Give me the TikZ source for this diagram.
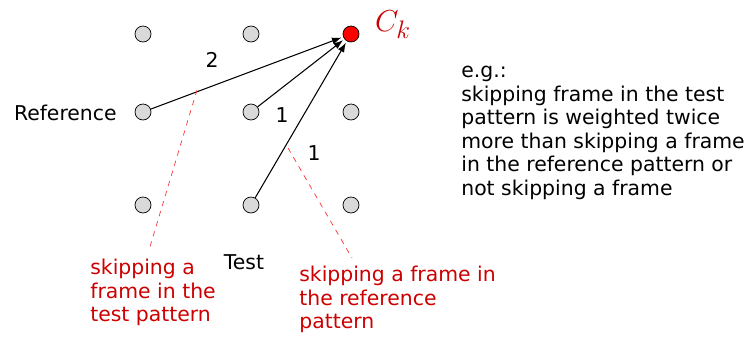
\documentclass[tikz,border=0pt]{standalone}
\usepackage{fontspec}
\setmainfont{DejaVu Sans}
\usetikzlibrary{arrows.meta, positioning}
\definecolor{dotgray}{HTML}{D9D9D9}
\definecolor{notered}{HTML}{CC0000}
\tikzset{
	gridnode/.style={
			circle,
			draw=black,
			fill=dotgray,
			minimum size=0.32cm,
			inner sep=0pt
		},
	activenode/.style={
			gridnode,
			fill=red
		},
	plaintext/.style={
			font=\fontsize{11.6pt}{13.4pt}\selectfont,
			inner sep=0pt
		},
	notetext/.style={
			plaintext,
			text=notered,
			align=left
		},
	costarrow/.style={
			-{Latex[length=1.9mm,width=1.4mm]},
			semithick,
			shorten >=1pt
		},
	notelink/.style={
			red!80,
			dashed,
			thin
		}
}

\begin{document}
\begin{tikzpicture}[x=0.02cm, y=-0.02cm]
\useasboundingbox (0,0) rectangle (752,339);
\node[gridnode] (n11) at (143,34)  {};
\node[gridnode] (n12) at (251,34)  {};
\node[activenode] (ck) at (351,34)  {};
\node[gridnode] (n21) at (143,112) {};
\node[gridnode] (n22) at (251,112) {};
\node[gridnode] (n23) at (351,112) {};
\node[gridnode] (n31) at (143,205) {};
\node[gridnode] (n32) at (251,205) {};
\node[gridnode] (n33) at (351,205) {};

\node[text=notered, font=\fontsize{19pt}{21pt}\selectfont\rmfamily, inner sep=0pt] (cklabel) at (393,25) {$C_k$};

\node[plaintext, anchor=east] (ref) at (117,113) {Reference};
\node[plaintext] (test) at (244,262) {Test};

\draw[costarrow] (n21) -- (ck);
\draw[costarrow] (n22) -- (ck);
\draw[costarrow] (n32) -- (ck);

\node[plaintext] (w2) at (212,60) {2};
\node[plaintext] (w1a) at (282,115) {1};
\node[plaintext] (w1b) at (314,153) {1};

% notes on skipped frames
\coordinate (s1) at (197,90);
\coordinate (e1) at (149,250);
\coordinate (s2) at (288,148);
\coordinate (e2) at (352,258);
\draw[notelink] (s1) -- (e1);
\draw[notelink] (s2) -- (e2);

\node[notetext, anchor=north west] (note1) at (90,259)
  {skipping a\\frame in the\\test pattern};
\node[notetext, anchor=north west] (note2) at (299,266)
  {skipping a frame in\\the reference\\pattern};

\node[plaintext, align=left, anchor=north west] (eg) at (461,66)
  {e.g.:\\skipping frame in the test\\pattern is weighted twice\\more than skipping a frame\\in the reference pattern or\\not skipping a frame};
\end{tikzpicture}
\end{document}
